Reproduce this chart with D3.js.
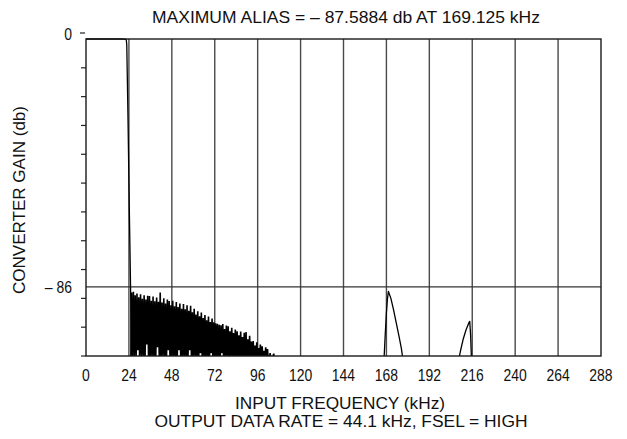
<!DOCTYPE html>
<html><head><meta charset="utf-8">
<script src="https://cdn.jsdelivr.net/npm/d3@7"></script>
<style>
html,body{margin:0;padding:0;background:#fff;}
svg text{font-family:"Liberation Sans",Arial,sans-serif;fill:#111;}
</style></head>
<body><svg id="c" width="627" height="439"></svg>
<script>
// ---- data ----
const xTicks = [0,24,48,72,96,120,144,168,192,216,240,264,288];
const yMinorTicks = [-10,-20,-30,-40,-50,-60,-70,-80,-90,-100,-110];
const yLabelTicks = [0,-86];
const titleText = "MAXIMUM ALIAS = \u2013 87.5884 db AT 169.125 kHz";
const xTitle1 = "INPUT FREQUENCY (kHz)";
const xTitle2 = "OUTPUT DATA RATE = 44.1 kHz, FSEL = HIGH";
const yTitle = "CONVERTER GAIN (db)";

const passband = [[0,0],[20,0],[22.5,-0.1],[22.8,-2],[23.5,-28],[24.2,-58],[25.0,-89],[25.2,-110]];
const stopband = [
[25.2,-110],[25.5,-88.0],[26.0,-112],[26.5,-87.7],[27.0,-110],[27.5,-88.9],[28.0,-112],[28.5,-88.3],[29.0,-108],[29.5,-89.6],
[30.0,-112],[30.5,-88.6],[31.0,-110],[31.5,-90.1],[32.0,-112],[32.5,-88.9],[33.0,-112],[33.5,-90.4],[34.0,-106],[34.5,-89.1],
[35.0,-112],[35.5,-89.2],[36.0,-112],[36.5,-90.8],[37.0,-110],[37.5,-89.4],[38.0,-112],[38.5,-91.0],[39.0,-112],[39.5,-89.7],
[40.0,-107],[40.5,-91.2],[41.0,-112],[41.5,-88.0],[42.0,-112],[42.5,-91.4],[43.0,-110],[43.5,-90.0],[44.0,-112],[44.5,-91.8],
[45.0,-112],[45.5,-90.4],[46.0,-108],[46.5,-90.9],[47.0,-112],[47.5,-92.4],[48.0,-112],[48.5,-90.8],[49.0,-110],[49.5,-92.7],
[50.0,-112],[50.5,-91.3],[51.0,-112],[51.5,-93.0],[52.0,-108],[52.5,-91.8],[53.0,-112],[53.5,-93.6],[54.0,-112],[54.5,-92.0],
[55.0,-110],[55.5,-93.8],[56.0,-112],[56.5,-92.4],[57.0,-112],[57.5,-94.3],[58.0,-108],[58.5,-92.6],[59.0,-112],[59.5,-94.8],
[60.0,-112],[60.5,-93.6],[61.0,-110],[61.5,-95.6],[62.0,-112],[62.5,-94.5],[63.0,-112],[63.5,-96.2],[64.0,-109],[64.5,-94.9],
[65.0,-112],[65.5,-96.8],[66.0,-112],[66.5,-95.8],[67.0,-110],[67.5,-97.6],[68.0,-112],[68.5,-96.3],[69.0,-112],[69.5,-98.2],
[70.0,-109],[70.5,-97.0],[71.0,-112],[71.5,-98.3],[72.0,-112],[72.5,-98.6],[73.0,-110],[73.5,-98.8],[74.0,-112],[74.5,-99.2],
[75.0,-112],[75.5,-99.3],[76.0,-109],[76.5,-98.9],[77.0,-112],[77.5,-100.6],[78.0,-112],[78.5,-99.4],[79.0,-110],[79.5,-99.7],
[80.0,-112],[80.5,-101.4],[81.0,-112],[81.5,-100.2],[82.0,-110],[82.5,-102.0],[83.0,-112],[83.5,-100.8],[84.0,-112],[84.5,-101.4],
[85.0,-110],[85.5,-102.8],[86.0,-112],[86.5,-101.5],[87.0,-112],[87.5,-103.4],[88.0,-112],[88.5,-101.9],[89.0,-112],[89.5,-101.7],
[90.0,-112],[90.5,-104.2],[91.0,-112],[91.5,-103.0],[92.0,-112],[92.5,-105.0],[93.0,-112],[93.5,-104.8],[94.0,-112],[94.5,-106.4],
[95.0,-112],[95.5,-105.2],[96.0,-112],[96.5,-107.2],[97.0,-112],[97.5,-106.0],[98.0,-112],[98.5,-106.6],[99.0,-112],[99.5,-108.2],
[100.0,-112],[100.5,-107.0],[101.0,-112],[101.5,-107.6],[102.0,-112],[103.0,-109.0],[103.5,-112],[105.0,-109.2],[105.5,-112]
];
const alias1 = [[166.6,-112],[167.3,-103],[168.0,-95],[168.6,-90],[169.125,-87.59],[170.5,-90],[172.0,-94],[173.5,-98.5],[175.0,-103],[176.4,-107.5],[177.4,-112]];
const alias2 = [[208.2,-112],[209.5,-108],[211.0,-104],[212.5,-101],[214.0,-98.6],[214.6,-98.0],[215.1,-103],[215.6,-112]];

// ---- layout ----
const L = 86, R = 601, T = 39, B = 356;
const svg = d3.select("#c");
const x = d3.scaleLinear().domain([0,288]).range([L,R]);
const y = d3.scaleLinear().domain([-110,0]).range([B,T]);

function condense(sel, f){
  sel.each(function(){
    const w = this.getComputedTextLength();
    d3.select(this).attr("textLength", w*f).attr("lengthAdjust","spacingAndGlyphs");
  });
}

svg.append("defs").append("clipPath").attr("id","clip")
  .append("rect").attr("x",L).attr("y",T-2).attr("width",R-L).attr("height",B-T+2);

// gridlines
svg.append("g").selectAll("line").data(xTicks.slice(1,-1)).join("line")
  .attr("x1",d=>x(d)).attr("x2",d=>x(d)).attr("y1",T).attr("y2",B)
  .attr("stroke","#4a4a4a").attr("stroke-width",1.4);
svg.append("line").attr("x1",L).attr("x2",R).attr("y1",y(-86)).attr("y2",y(-86))
  .attr("stroke","#333").attr("stroke-width",1.3);

// y minor ticks (outside left)
svg.append("g").selectAll("line").data(yMinorTicks).join("line")
  .attr("x1",L-5).attr("x2",L).attr("y1",d=>y(d)).attr("y2",d=>y(d))
  .attr("stroke","#222").attr("stroke-width",1.2);

// data lines
const line = d3.line().x(d=>x(d[0])).y(d=>y(d[1]));
const gData = svg.append("g").attr("clip-path","url(#clip)");
[passband, alias1, alias2].forEach(s=>{
  gData.append("path").datum(s).attr("d",line).attr("fill","none")
    .attr("stroke","#000").attr("stroke-width",1.3).attr("stroke-linejoin","round");
});
gData.append("path").datum(stopband).attr("d",line).attr("fill","none")
  .attr("stroke","#000").attr("stroke-width",1.6).attr("stroke-linejoin","miter");

// frame
svg.append("rect").attr("x",L).attr("y",T).attr("width",R-L).attr("height",B-T)
  .attr("fill","none").attr("stroke","#1a1a1a").attr("stroke-width",1.4);

// x tick labels
svg.append("g").selectAll("text").data(xTicks).join("text")
  .attr("x",d=>x(d)).attr("y",381).attr("text-anchor","middle")
  .attr("font-size",17).text(d=>d).call(condense,0.82);

// y labels
svg.append("text").attr("x",72).attr("y",y(0)+1).attr("text-anchor","end")
  .attr("font-size",17).text(yLabelTicks[0]).call(condense,0.82);
svg.append("line").attr("x1",80).attr("x2",85).attr("y1",y(0)-6).attr("y2",y(0)-6)
  .attr("stroke","#222").attr("stroke-width",1.2);
svg.append("text").attr("x",72).attr("y",y(-86)+6).attr("text-anchor","end")
  .attr("font-size",17).text("\u2013 " + Math.abs(yLabelTicks[1])).call(condense,0.82);

// titles
svg.append("text").attr("x",346).attr("y",23).attr("text-anchor","middle")
  .attr("font-size",17).attr("textLength",388).attr("lengthAdjust","spacingAndGlyphs").text(titleText);
svg.append("text").attr("x",340).attr("y",409).attr("text-anchor","middle")
  .attr("font-size",16).attr("textLength",210).attr("lengthAdjust","spacingAndGlyphs").text(xTitle1);
svg.append("text").attr("x",341).attr("y",427).attr("text-anchor","middle")
  .attr("font-size",16).attr("textLength",373).attr("lengthAdjust","spacingAndGlyphs").text(xTitle2);
svg.append("text").attr("transform","translate(25,200) rotate(-90)").attr("text-anchor","middle")
  .attr("font-size",17).attr("textLength",188).attr("lengthAdjust","spacingAndGlyphs").text(yTitle);
</script></body></html>
